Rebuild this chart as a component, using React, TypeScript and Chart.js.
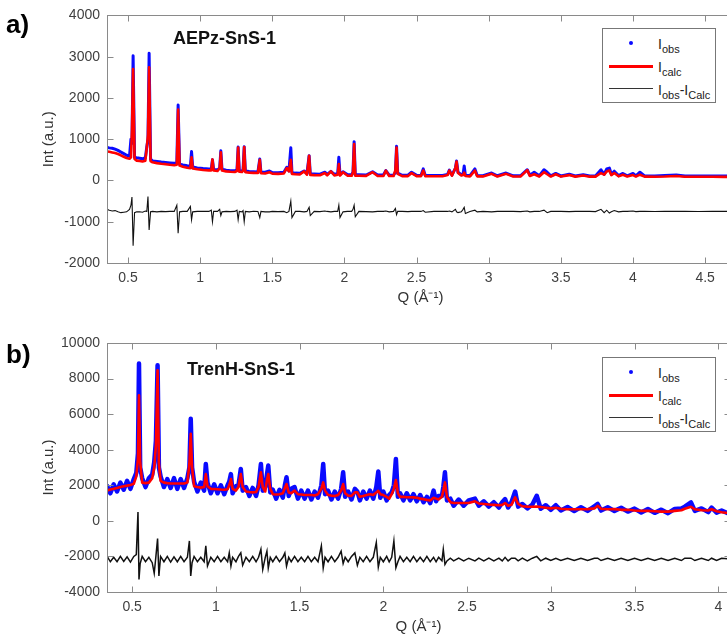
import React, { useEffect, useRef } from 'react';
import { Chart, registerables } from 'chart.js';
Chart.register(...registerables);

// ---------- Panel a) AEPz-SnS-1 ----------
const qA = [
  0.355, 0.37, 0.39, 0.41, 0.43, 0.45, 0.47, 0.49, 0.51, 0.52,
  0.527, 0.535, 0.545, 0.56, 0.58, 0.6, 0.62, 0.63, 0.638, 0.646,
  0.656, 0.67, 0.7, 0.73, 0.76, 0.79, 0.82, 0.838, 0.847, 0.857,
  0.88, 0.91, 0.932, 0.94, 0.948, 0.98, 1.02, 1.06, 1.077, 1.085,
  1.093, 1.12, 1.135, 1.143, 1.151, 1.18, 1.21, 1.24, 1.255, 1.263,
  1.271, 1.29, 1.297, 1.305, 1.313, 1.34, 1.37, 1.4, 1.413, 1.421,
  1.45, 1.48, 1.5, 1.54, 1.58, 1.6, 1.615, 1.628, 1.636, 1.66,
  1.69, 1.72, 1.74, 1.755, 1.763, 1.79, 1.83, 1.864, 1.88, 1.906,
  1.93, 1.953, 1.961, 1.969, 1.99, 2.02, 2.05, 2.059, 2.067, 2.075,
  2.1, 2.15, 2.195, 2.23, 2.27, 2.287, 2.31, 2.34, 2.353, 2.361,
  2.369, 2.4, 2.44, 2.465, 2.5, 2.53, 2.546, 2.56, 2.62, 2.68,
  2.715, 2.727, 2.745, 2.769, 2.777, 2.787, 2.81, 2.822, 2.83, 2.838,
  2.87, 2.904, 2.92, 2.96, 3.02, 3.06, 3.12, 3.17, 3.22, 3.267,
  3.285, 3.315, 3.35, 3.383, 3.405, 3.43, 3.464, 3.5, 3.558, 3.6,
  3.655, 3.7, 3.74, 3.778, 3.8, 3.818, 3.836, 3.85, 3.87, 3.9,
  3.93, 3.96, 4.0, 4.02, 4.048, 4.08, 4.15, 4.22, 4.3, 4.36,
  4.45, 4.55, 4.63, 4.7,
];
const obsA = [
  800, 790, 780, 760, 730, 690, 650, 610, 590, 1000,
  900, 3020, 560, 550, 540, 525, 550, 820, 1000, 3080,
  515, 475, 460, 445, 435, 425, 415, 430, 1830, 395,
  375, 355, 345, 700, 325, 305, 288, 278, 278, 500,
  268, 258, 300, 720, 275, 248, 238, 235, 258, 810,
  238, 228, 258, 820, 228, 218, 212, 208, 520, 198,
  198, 228, 192, 188, 198, 320, 230, 790, 188, 178,
  172, 230, 168, 600, 158, 158, 153, 200, 148, 220,
  148, 168, 560, 143, 210, 143, 138, 200, 940, 138,
  138, 133, 210, 133, 133, 240, 128, 128, 200, 830,
  178, 126, 126, 200, 123, 123, 280, 123, 120, 120,
  148, 250, 128, 300, 470, 200, 138, 148, 350, 128,
  118, 280, 118, 116, 180, 113, 180, 113, 113, 260,
  128, 200, 113, 260, 200, 113, 170, 110, 150, 108,
  140, 108, 108, 260, 150, 280, 300, 150, 225, 118,
  170, 113, 170, 113, 200, 110, 108, 118, 130, 108,
  106, 108, 106, 106,
];
const calcA = [
  700, 695, 680, 665, 640, 610, 575, 545, 525, 560,
  1200, 2700, 520, 480, 470, 460, 480, 800, 1100, 2740,
  470, 440, 420, 405, 395, 380, 370, 380, 1720, 360,
  335, 310, 300, 560, 290, 270, 255, 245, 245, 510,
  240, 230, 300, 680, 240, 220, 210, 205, 230, 800,
  210, 205, 240, 810, 200, 190, 185, 180, 500, 175,
  170, 200, 165, 160, 170, 300, 220, 500, 160, 150,
  145, 220, 140, 600, 135, 130, 128, 180, 125, 220,
  122, 140, 400, 120, 200, 118, 116, 200, 880, 115,
  114, 112, 200, 110, 110, 240, 108, 108, 250, 800,
  160, 106, 105, 180, 104, 104, 240, 104, 102, 102,
  130, 240, 115, 300, 460, 180, 120, 130, 190, 110,
  100, 240, 100, 98, 160, 97, 160, 96, 96, 250,
  110, 150, 95, 200, 150, 95, 150, 94, 130, 93,
  120, 92, 92, 180, 140, 220, 240, 130, 180, 100,
  140, 95, 130, 95, 140, 92, 90, 95, 110, 90,
  90, 90, 88, 88,
];
const diffA = [
  -700, -720, -740, -730, -760, -780, -770, -760, -700, -600,
  -400, -1580, -780, -760, -760, -770, -740, -750, -390, -1200,
  -760, -750, -760, -750, -755, -750, -750, -600, -1280, -760,
  -750, -750, -630, -950, -760, -750, -745, -750, -720, -1000,
  -750, -750, -700, -850, -760, -750, -755, -750, -720, -950,
  -750, -760, -730, -1000, -750, -760, -745, -750, -900, -750,
  -760, -760, -750, -755, -750, -780, -750, -500, -900, -750,
  -750, -760, -750, -650, -850, -750, -755, -740, -750, -760,
  -750, -750, -600, -900, -760, -750, -750, -700, -600, -880,
  -750, -755, -760, -750, -750, -740, -760, -750, -680, -830,
  -750, -750, -755, -750, -750, -750, -730, -770, -750, -750,
  -750, -740, -760, -700, -760, -780, -760, -700, -650, -800,
  -750, -720, -760, -750, -760, -750, -745, -750, -755, -740,
  -760, -750, -750, -720, -780, -750, -750, -750, -755, -750,
  -750, -750, -755, -700, -780, -720, -790, -760, -730, -760,
  -750, -750, -740, -755, -750, -750, -752, -748, -750, -750,
  -752, -748, -750, -750,
];

// ---------- Panel b) TrenH-SnS-1 ----------
const qB = [
  0.351, 0.37, 0.39, 0.41, 0.43, 0.45, 0.47, 0.49, 0.51, 0.525,
  0.535, 0.541, 0.548, 0.56, 0.58, 0.6, 0.62, 0.632, 0.642, 0.652,
  0.66, 0.67, 0.69, 0.71, 0.73, 0.75, 0.77, 0.79, 0.81, 0.83,
  0.842, 0.85, 0.858, 0.87, 0.89, 0.91, 0.93, 0.94, 0.95, 0.97,
  0.99, 1.01, 1.03, 1.05, 1.07, 1.08, 1.09, 1.1, 1.12, 1.135,
  1.149, 1.16, 1.18, 1.2, 1.22, 1.24, 1.255, 1.269, 1.28, 1.295,
  1.305, 1.313, 1.325, 1.34, 1.36, 1.38, 1.4, 1.412, 1.422, 1.435,
  1.45, 1.47, 1.49, 1.51, 1.53, 1.55, 1.57, 1.59, 1.61, 1.63,
  1.641, 1.652, 1.67, 1.69, 1.71, 1.73, 1.748, 1.76, 1.772, 1.79,
  1.81, 1.83, 1.845, 1.86, 1.88, 1.9, 1.92, 1.94, 1.958, 1.97,
  1.982, 2.0, 2.02, 2.035, 2.05, 2.063, 2.075, 2.087, 2.1, 2.12,
  2.14, 2.16, 2.18, 2.2, 2.22, 2.24, 2.26, 2.28, 2.3, 2.315,
  2.33, 2.35, 2.358, 2.368, 2.38, 2.4, 2.42, 2.45, 2.48, 2.51,
  2.547, 2.57, 2.6, 2.63, 2.66, 2.69, 2.71, 2.727, 2.745, 2.765,
  2.787, 2.805, 2.83, 2.86, 2.89, 2.916, 2.94, 2.97, 3.0, 3.03,
  3.06, 3.1, 3.14, 3.18, 3.22, 3.26, 3.28, 3.3, 3.34, 3.38,
  3.42, 3.46, 3.5, 3.54, 3.58, 3.62, 3.66, 3.7, 3.74, 3.78,
  3.8, 3.837, 3.86, 3.9, 3.94, 3.96, 3.99, 4.02, 4.07,
];
const obsB = [
  1950, 1550, 2050, 1650, 2150, 1750, 2250, 1800, 2350, 2700,
  3800, 8850, 3000, 2400, 1900, 2400, 2600, 3300, 4500, 8750,
  3000, 2500, 1900, 2350, 1850, 2400, 1800, 2350, 1850, 2400,
  3000, 5740, 3000, 2200, 1650, 2150, 1700, 3200, 2150, 1550,
  2050, 1550, 2000, 1500, 2000, 2200, 2630, 1550, 1950, 2000,
  2920, 1700, 1900, 1400, 1850, 1400, 2000, 3200, 1700, 1900,
  2600, 3110, 1600, 1750, 1250, 1750, 1300, 2000, 2450, 1400,
  1800, 1900, 1250, 1700, 1250, 1700, 1200, 1650, 1300, 2000,
  3200, 1500, 1700, 1200, 1650, 1250, 1800, 2730, 1350, 1650,
  1200, 1800, 1650, 1150, 1650, 1250, 1700, 1250, 1900, 2780,
  1300, 1650, 1150, 1450, 1600, 2000, 3480, 1350, 1550, 1150,
  1550, 1150, 1500, 1100, 1450, 1050, 1350, 1000, 1700, 1100,
  1400, 1400, 1900, 2730, 1150, 1250, 850, 1200, 850, 1150,
  1250, 850, 1100, 800, 1050, 750, 1050, 1225, 750, 1050,
  1650, 800, 950, 700, 920, 1410, 680, 880, 620, 880,
  580, 780, 550, 770, 560, 820, 950, 580, 760, 560,
  740, 520, 690, 470, 670, 450, 630, 430, 670, 700,
  800, 1035, 560, 700, 490, 750, 460, 580, 380,
];
const calcB = [
  1700, 1760, 1800, 1850, 1900, 1950, 1980, 2020, 2080, 2500,
  3500, 7060, 3300, 2150, 2120, 2150, 2400, 3000, 4200, 8470,
  3200, 2250, 2150, 2120, 2100, 2100, 2100, 2100, 2100, 2150,
  3200, 4890, 3000, 1950, 1900, 1870, 1900, 2630, 1950, 1800,
  1790, 1780, 1760, 1750, 1780, 2000, 2350, 1800, 1700, 1900,
  2630, 1900, 1650, 1620, 1600, 1620, 1900, 2730, 1900, 1650,
  2300, 2630, 1800, 1500, 1480, 1500, 1550, 1850, 2070, 1600,
  1550, 1700, 1500, 1480, 1450, 1450, 1450, 1430, 1500, 1800,
  2160, 1700, 1450, 1420, 1400, 1450, 1700, 2070, 1550, 1420,
  1400, 1600, 1600, 1350, 1400, 1450, 1500, 1450, 1600, 1690,
  1500, 1450, 1350, 1250, 1500, 1800, 2300, 1550, 1350, 1350,
  1330, 1330, 1320, 1300, 1250, 1220, 1180, 1150, 1300, 1250,
  1200, 1350, 1700, 2160, 1350, 1050, 1000, 1000, 1000, 1000,
  1100, 980, 950, 920, 900, 880, 900, 1000, 850, 900,
  1320, 950, 820, 800, 790, 800, 780, 740, 700, 740,
  680, 650, 650, 650, 660, 700, 850, 680, 650, 660,
  620, 620, 580, 560, 560, 540, 520, 520, 560, 600,
  680, 790, 650, 600, 580, 650, 540, 480, 430,
];
const diffB = [
  -2000, -2300, -2050, -2300, -2000, -2280, -2020, -2320, -2000, -1900,
  500, -3300, -2400, -2000, -2300, -2050, -2350, -2950, -2000, -1000,
  -3100, -2000, -2300, -2000, -2320, -2020, -2300, -2000, -2300, -2050,
  -1130, -3100, -2350, -2000, -2300, -2050, -2300, -1410, -2540, -2050,
  -2300, -2000, -2300, -2050, -2300, -1800, -2540, -2050, -2300, -2000,
  -1800, -2500, -2050, -2300, -2000, -2300, -2050, -1600, -2730, -2050,
  -1700, -2650, -2050, -2300, -2000, -2300, -2050, -1800, -2550, -2050,
  -2300, -2000, -2300, -2050, -2300, -2000, -2300, -2050, -2300, -1410,
  -2650, -2050, -2300, -2000, -2300, -2050, -1700, -2400, -2050, -2300,
  -2000, -1800, -2500, -2050, -2300, -2000, -2300, -2050, -1220, -2600,
  -2050, -2300, -2000, -2300, -2050, -1130, -2640, -2300, -2000, -2300,
  -2050, -2300, -2000, -2300, -2050, -2300, -2000, -2300, -2050, -2300,
  -2050, -2250, -1600, -2450, -2250, -2100, -2250, -2100, -2250, -2100,
  -2250, -2100, -2250, -2100, -2250, -2100, -2250, -2050, -2250, -2100,
  -2100, -2250, -2100, -2250, -2100, -2000, -2250, -2100, -2230, -2100,
  -2230, -2100, -2230, -2100, -2230, -2100, -2100, -2230, -2100, -2230,
  -2100, -2230, -2100, -2230, -2100, -2230, -2100, -2230, -2100, -2230,
  -2100, -2100, -2230, -2100, -2230, -2100, -2230, -2100, -2150,
];

const FONT = "'Liberation Sans', Arial, Helvetica, sans-serif";
const TICK_COLOR = '#404040';

const boxPlugin = {
  id: 'matlabBox',
  afterDatasetsDraw(chart: any) {
    const { ctx, chartArea: a, scales } = chart;
    ctx.save();
    ctx.strokeStyle = '#8a8a8a';
    ctx.lineWidth = 1;
    const L = Math.round(a.left) + 0.5;
    const T = Math.round(a.top) + 0.5;
    const R = Math.round(a.right) + 0.5;
    const B = Math.round(a.bottom) + 0.5;
    ctx.strokeRect(L, T, R - L, B - T);
    const tl = 6;
    ctx.beginPath();
    scales.x.ticks.forEach((t: any) => {
      const px = Math.round(scales.x.getPixelForValue(t.value)) + 0.5;
      ctx.moveTo(px, B); ctx.lineTo(px, B - tl);
      ctx.moveTo(px, T); ctx.lineTo(px, T + tl);
    });
    scales.y.ticks.forEach((t: any) => {
      const py = Math.round(scales.y.getPixelForValue(t.value)) + 0.5;
      ctx.moveTo(L, py); ctx.lineTo(L + tl, py);
      ctx.moveTo(R, py); ctx.lineTo(R - tl, py);
    });
    ctx.stroke();
    ctx.restore();
  },
};

type PanelOpts = {
  xMin: number; xMax: number; yMin: number; yMax: number; yStep: number;
  padTop: number; padRight: number; xHeight: number; xTitlePad: number;
  obsWidth: number; diffWidth: number;
};

function makeConfig(q: number[], obs: number[], calc: number[], diff: number[], o: PanelOpts): any {
  const pts = (ys: number[]) => q.slice(0, Math.min(q.length, ys.length)).map((x, i) => ({ x, y: ys[i] }));
  return {
    type: 'scatter',
    data: {
      datasets: [
        { label: 'I_obs', data: pts(obs), showLine: true, borderColor: '#0a0aff', backgroundColor: '#0a0aff',
          borderWidth: o.obsWidth, pointRadius: 0, order: 3, borderJoinStyle: 'round', borderCapStyle: 'round' },
        { label: 'I_calc', data: pts(calc), showLine: true, borderColor: '#ff0000', backgroundColor: '#ff0000',
          borderWidth: 2.6, pointRadius: 0, order: 2, borderJoinStyle: 'round' },
        { label: 'I_obs-I_Calc', data: pts(diff), showLine: true, borderColor: '#111111', backgroundColor: '#111111',
          borderWidth: o.diffWidth, pointRadius: 0, order: 1 },
      ],
    },
    options: {
      animation: false,
      responsive: false,
      maintainAspectRatio: false,
      events: [],
      layout: { padding: { left: 0, right: o.padRight, top: o.padTop, bottom: 0 } },
      plugins: { legend: { display: false }, tooltip: { enabled: false }, title: { display: false } },
      scales: {
        x: {
          type: 'linear', min: o.xMin, max: o.xMax,
          grid: { display: false, drawTicks: false },
          border: { display: false },
          ticks: {
            stepSize: 0.5, includeBounds: false, padding: 7, color: TICK_COLOR, autoSkip: false, maxRotation: 0,
            font: { family: FONT, size: 14 },
            callback: (v: any) => String(Math.round(Number(v) * 100) / 100),
          },
          title: { display: true, text: 'Q (Å⁻¹)', color: '#333333', font: { family: FONT, size: 15 },
            padding: { top: 0, bottom: o.xTitlePad } },
          afterFit: (s: any) => { s.height = o.xHeight; },
        },
        y: {
          type: 'linear', min: o.yMin, max: o.yMax,
          grid: { display: false, drawTicks: false },
          border: { display: false },
          ticks: {
            stepSize: o.yStep, padding: 7, color: TICK_COLOR, autoSkip: false,
            font: { family: FONT, size: 14 },
            callback: (v: any) => String(Math.round(Number(v))),
          },
          title: { display: true, text: 'Int (a.u.)', color: '#333333', font: { family: FONT, size: 15 },
            padding: { top: 40, bottom: 0 } },
          afterFit: (s: any) => { s.width = 107; },
        },
      },
    },
    plugins: [boxPlugin],
  };
}

function Legend({ top }: { top: number }) {
  const txt: React.CSSProperties = { position: 'absolute', left: 55, fontFamily: FONT, fontSize: 14, lineHeight: '14px', color: '#222', whiteSpace: 'nowrap' };
  const sub: React.CSSProperties = { fontSize: 11, position: 'relative', top: 4 };
  return (
    <div style={{ position: 'absolute', left: 602, top, width: 114, height: 75, border: '1px solid #777', background: '#fff', boxSizing: 'border-box' }}>
      <div style={{ position: 'absolute', left: 26, top: 12, width: 4, height: 4, borderRadius: 2, background: '#0a0aff' }} />
      <div style={{ ...txt, top: 8 }}>I<span style={sub}>obs</span></div>
      <div style={{ position: 'absolute', left: 6, top: 36, width: 44, height: 3, background: '#ff0000' }} />
      <div style={{ ...txt, top: 31 }}>I<span style={sub}>calc</span></div>
      <div style={{ position: 'absolute', left: 6, top: 59, width: 44, height: 1, background: '#333' }} />
      <div style={{ ...txt, top: 54 }}>I<span style={sub}>obs</span>-I<span style={sub}>Calc</span></div>
    </div>
  );
}

export default function App() {
  const refA = useRef<HTMLCanvasElement>(null);
  const refB = useRef<HTMLCanvasElement>(null);

  useEffect(() => {
    const chA = new Chart(refA.current as HTMLCanvasElement, makeConfig(qA, obsA, calcA, diffA, {
      xMin: 0.354, xMax: 4.7, yMin: -2000, yMax: 4000, yStep: 1000,
      padTop: 15, padRight: 6, xHeight: 59, xTitlePad: 15, obsWidth: 3, diffWidth: 1.1,
    }));
    const chB = new Chart(refB.current as HTMLCanvasElement, makeConfig(qB, obsB, calcB, diffB, {
      xMin: 0.35, xMax: 4.07, yMin: -4000, yMax: 10000, yStep: 2000,
      padTop: 21, padRight: 10, xHeight: 52, xTitlePad: 8, obsWidth: 4.5, diffWidth: 1.5,
    }));
    return () => { chA.destroy(); chB.destroy(); };
  }, []);

  const panelLabel: React.CSSProperties = { position: 'absolute', left: 6, fontFamily: FONT, fontWeight: 'bold', fontSize: 26, lineHeight: '26px', color: '#000' };
  const title: React.CSSProperties = { position: 'absolute', fontFamily: FONT, fontWeight: 'bold', fontSize: 18, lineHeight: '18px', color: '#111', whiteSpace: 'nowrap' };

  return (
    <div style={{ position: 'fixed', left: 0, top: 0, width: 727, height: 644, overflow: 'hidden', background: '#fff' }}>
      <canvas ref={refA} width={740} height={322} style={{ position: 'absolute', left: 0, top: 0, width: 740, height: 322 }} />
      <canvas ref={refB} width={740} height={322} style={{ position: 'absolute', left: 0, top: 322, width: 740, height: 322 }} />
      <div style={{ ...panelLabel, top: 11 }}>a)</div>
      <div style={{ ...panelLabel, top: 341 }}>b)</div>
      <div style={{ ...title, left: 173, top: 29 }}>AEPz-SnS-1</div>
      <div style={{ ...title, left: 187, top: 360 }}>TrenH-SnS-1</div>
      <Legend top={28} />
      <Legend top={357} />
    </div>
  );
}
